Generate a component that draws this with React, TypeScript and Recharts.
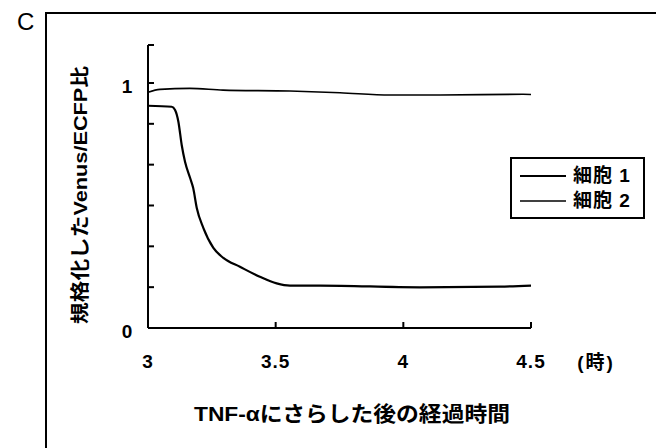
import React from "react";
import { LineChart, Line, XAxis, YAxis, Legend, Label } from "recharts";

const cell1Time = [3.0, 3.093, 3.106, 3.119, 3.132, 3.145, 3.165, 3.177, 3.191, 3.217, 3.256, 3.295, 3.36, 3.438, 3.504, 3.556, 3.674, 4.065, 4.379, 4.5];
const cell1Ratio = [0.907, 0.903, 0.89, 0.842, 0.747, 0.679, 0.612, 0.571, 0.49, 0.408, 0.327, 0.286, 0.25, 0.209, 0.182, 0.173, 0.173, 0.166, 0.169, 0.173];
const cell2Time = [3.0, 3.047, 3.164, 3.294, 3.556, 3.752, 3.948, 4.144, 4.469, 4.5];
const cell2Ratio = [0.962, 0.974, 0.978, 0.971, 0.967, 0.96, 0.951, 0.951, 0.954, 0.953];
const seriesNames = ["細胞 1", "細胞 2"];
const xTicks = [3, 3.5, 4, 4.5];
const yTicks = [0, 1 / 6, 2 / 6, 3 / 6, 4 / 6, 5 / 6, 1, 1.155];
const yTickLabels: Record<string, string> = { "0": "0", "1": "1" };
const xTitle = "TNF-αにさらした後の経過時間";
const xUnit = "(時)";
const yTitle = "規格化したVenus/ECFP比";
const panelLabel = "C";

const cell1 = cell1Time.map((t, i) => ({ t, v: cell1Ratio[i] }));
const cell2 = cell2Time.map((t, i) => ({ t, v: cell2Ratio[i] }));

const FONT = '"Liberation Sans", "Noto Sans CJK JP", Arial, sans-serif';

const XTick = (props: any) => {
  const { x, y, payload } = props;
  return (
    <g>
      <line x1={x} y1={y} x2={x} y2={y - 6} stroke="#000" strokeWidth={2} />
      <text x={x} y={y + 40} textAnchor="middle" fontFamily={FONT} fontWeight="bold" fontSize={19} letterSpacing={1} fill="#000">
        {String(payload.value)}
      </text>
    </g>
  );
};

const YTick = (props: any) => {
  const { x, y, payload } = props;
  const key = String(Math.round(payload.value * 1000) / 1000);
  const label = yTickLabels[key];
  return (
    <g>
      <line x1={x} y1={y} x2={x + 6} y2={y} stroke="#000" strokeWidth={2} />
      {label !== undefined && (
        <text x={x - 21} y={y + 10} textAnchor="middle" fontFamily={FONT} fontWeight="bold" fontSize={19} fill="#000">
          {label}
        </text>
      )}
    </g>
  );
};

const XLabel = (props: any) => {
  const vb = props.viewBox || {};
  return (
    <g>
      <text x={vb.x + vb.width + 65} y={vb.y + 41} textAnchor="middle" fontFamily={FONT} fontWeight="bold" fontSize={19} letterSpacing={2} fill="#000">
        {xUnit}
      </text>
      <text
        x={352}
        y={vb.y + 93}
        textAnchor="middle"
        fontFamily={FONT}
        fontWeight="bold"
        fontSize={21}
        fill="#000"
        textLength={316}
        lengthAdjust="spacingAndGlyphs"
      >
        {xTitle}
      </text>
    </g>
  );
};

const YLabel = () => {
  const cx = 80;
  const cy = 195;
  return (
    <text
      x={cx}
      y={cy}
      transform={`rotate(-90 ${cx} ${cy})`}
      textAnchor="middle"
      dominantBaseline="central"
      fontFamily={FONT}
      fontWeight="bold"
      fontSize={19}
      fill="#000"
      textLength={258}
      lengthAdjust="spacingAndGlyphs"
    >
      {yTitle}
    </text>
  );
};

const LegendBox = () => (
  <div
    style={{
      border: "2px solid #000",
      background: "#fff",
      padding: "4px 4px 3px 8px",
      fontFamily: FONT,
      fontWeight: "bold",
      fontSize: 19,
      letterSpacing: 1,
      lineHeight: "25px",
      boxSizing: "border-box",
      width: 135,
      height: 62,
      textAlign: "left",
    }}
  >
    {seriesNames.map((n, i) => (
      <div key={n} style={{ display: "flex", alignItems: "center", whiteSpace: "nowrap" }}>
        <svg width={46} height={10} style={{ marginRight: 7, flex: "none" }}>
          <line x1={0} y1={5} x2={46} y2={5} stroke="#000" strokeWidth={i === 0 ? 2 : 1.6} />
        </svg>
        <span>{n}</span>
      </div>
    ))}
  </div>
);

export default function App() {
  return (
    <div style={{ position: "absolute", left: 0, top: 0, width: 656, height: 448, background: "#fff", overflow: "hidden" }}>
      <div style={{ position: "absolute", left: 45, top: 12, width: 620, height: 450, borderLeft: "2px solid #000", borderTop: "2px solid #000" }} />
      <div style={{ position: "absolute", left: 17, top: 8, fontFamily: FONT, fontSize: 24, lineHeight: "28px", color: "#000" }}>{panelLabel}</div>
      <div style={{ position: "absolute", left: 0, top: 0 }}>
        <LineChart width={656} height={448} margin={{ top: 45, right: 125, bottom: 90, left: 88 }}>
          <XAxis
            type="number"
            dataKey="t"
            domain={[3, 4.5]}
            ticks={xTicks}
            tick={<XTick />}
            tickLine={false}
            tickSize={0}
            tickMargin={0}
            height={30}
            axisLine={{ stroke: "#000", strokeWidth: 2 }}
            allowDataOverflow
          >
            <Label content={<XLabel />} />
          </XAxis>
          <YAxis
            type="number"
            dataKey="v"
            domain={[0, 1.155]}
            ticks={yTicks}
            tick={<YTick />}
            tickLine={false}
            tickSize={0}
            tickMargin={0}
            width={60}
            axisLine={{ stroke: "#000", strokeWidth: 2 }}
            allowDataOverflow
            interval={0}
          >
            <Label content={<YLabel />} />
          </YAxis>
          <Legend
            content={<LegendBox />}
            layout="vertical"
            verticalAlign="middle"
            align="center"
            wrapperStyle={{ position: "absolute", left: 510, top: 157, width: 135 }}
          />
          <Line data={cell1} dataKey="v" name={seriesNames[0]} type="monotone" stroke="#000" strokeWidth={2.2} dot={false} isAnimationActive={false} />
          <Line data={cell2} dataKey="v" name={seriesNames[1]} type="monotone" stroke="#000" strokeWidth={1.6} dot={false} isAnimationActive={false} />
        </LineChart>
      </div>
    </div>
  );
}
